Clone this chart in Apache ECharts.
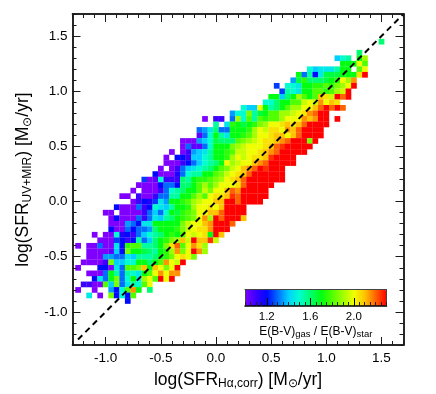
<!DOCTYPE html>
<html><head><meta charset="utf-8">
<style>html,body{margin:0;padding:0;background:#fff}#c{width:436px;height:394px}</style>
<script src="https://cdn.jsdelivr.net/npm/echarts@6/dist/echarts.min.js"></script>
</head><body><div id="c"></div>
<script>
const binWidth = 0.05;
const axisMajorTicks = [-1, -0.5, 0, 0.5, 1, 1.5];
const colorbarTicks = [1.2, 1.6, 2.0];
const refLineXY = [-1.25, 1.7];
const colorStops = ['#7f00ff','#3c00ff','#0008ff','#006cff','#00cfff','#00ffd0','#00ff70','#00ff10','#50ff00','#a0ff00','#f0ff00','#ffc400','#ff6200','#ff0000'];
const rowY = [1.45,1.35,1.3,1.25,1.2,1.15,1.1,1.05,1,0.95,0.9,0.85,0.8,0.75,0.7,0.65,0.6,0.55,0.5,0.45,0.4,0.35,0.3,0.25,0.2,0.15,0.1,0.05,0,-0.05,-0.1,-0.15,-0.2,-0.25,-0.3,-0.35,-0.4,-0.45,-0.5,-0.55,-0.6,-0.65,-0.7,-0.75,-0.8,-0.85,-0.9];
const rowFirstX = [1.5,1.3,1.1,1.15,0.85,0.75,0.7,0.55,0.6,0.5,0.45,0.25,0.15,-0.1,0,-0.15,-0.15,-0.3,-0.3,-0.4,-0.45,-0.45,-0.5,-0.55,-0.65,-0.7,-0.75,-0.85,-0.75,-0.9,-1,-0.95,-0.95,-0.95,-1.1,-1.05,-1.25,-1.15,-1.15,-1.2,-1.25,-1.15,-1.1,-1.2,-1.25,-1.15,-0.8];
const rowRatios = [
[1.6],
[1.6],
[1.4,1.5,1.55,null,1.7,1.9],
[1.7,1.7,1.7,2,1.8],
[1.5,1.4,1.45,1.45,1.45,1.55,1.7,1.7,null,1.8,2],
[1.7,1.3,1.55,1.2,1.45,1.65,1.65,1.65,1.7,1.7,1.7,2.05,2.3],
[1.35,1.65,1.75,1.6,1.6,1.6,1.65,1.7,1.75,2,1.9,2.15],
[1.25,null,1.5,1.5,1.45,1.7,1.7,1.75,1.75,1.8,1.75,1.85,1.9,2,2.3],
[1.25,1.55,1.5,1.45,1.7,1.7,1.8,1.8,1.75,1.8,1.9,1.95,2.3],
[1.7,1.7,1.4,1.6,1.7,1.9,1.8,1.7,1.8,2.1,2.05,1.95,2.3,2.2,2.3],
[1.5,1.5,1.6,1.7,1.7,1.8,1.8,1.95,2,1.95,2.15,2,2.1,2.05],
[1.5,1.4,1.4,2,1.7,1.55,1.6,1.7,1.8,1.9,1.9,2,2,2.1,2.2,2.3,2.2,2.3,2.2],
[1.35,1.5,1.5,1.85,1.55,1.65,1.7,1.8,1.8,1.9,1.9,1.95,2,2.05,2.15,2.2,2.3,2.3],
[1,null,1.1,1.1,null,1.3,1.9,1.5,1.8,1.55,1.8,1.75,1.8,1.8,1.9,2,2,2,2.15,2.1,2.15,2.3,2.3,null,2.3],
[1.55,null,1.45,1.75,1.7,1.65,1.7,1.75,1.85,1.9,2,2,2.05,2.1,2.05,2.1,2.2,2.3,2.3,2.3,2.3],
[1.3,1.35,1.45,1.6,1.3,1.3,1.7,1.7,1.7,1.75,1.9,2,1.95,2.05,2.05,2,2.15,2.1,2.2,2.3,2.3,2.3,2.3],
[1.05,1.3,1.5,1.7,1.55,1.45,1.7,1.7,1.75,1.8,1.9,2,2,2.05,2.1,2.1,2,2.1,2.2,2.3,2.3,2.3,2.3],
[1,1,1,1.35,1.4,1.5,1.65,1.6,1.6,1.6,1.8,1.85,1.9,1.95,2,2.05,2.05,2.1,2.15,2.2,2.3,2.3,2.3,1.85,2.3],
[1,1.3,1.05,1.05,1.3,1.5,1.7,1.7,1.7,1.85,1.9,1.95,2,2,2,2.05,2.1,2.2,2.25,2.3,2.3,2.3,2.3,2.3],
[1,null,1,1.1,1.35,1.4,1.45,1.55,1.7,1.7,1.75,1.8,1.95,1.95,2,2,2.05,2.1,2.15,2.2,2.3,2.3,2.3,2.3,2.3],
[1,null,1.2,1.2,1.1,1.4,1.4,1.5,1.55,1.7,1.7,1.75,1.9,2,1.95,2,2.05,2.05,2.1,2.25,2.3,2.3,2.3,2.3],
[1,1,1,1.1,1.2,1.3,1.4,1.5,1.55,1.6,1.7,2,1.9,1.95,2,2,2.1,2.15,2.2,2.3,2.3,2.3,2.3,2.3],
[1,null,1,1.1,1.3,1.4,1.45,1.5,1.55,1.6,1.7,1.8,1.85,1.95,2,2.1,2.15,2.2,2.3,2.25,2.3,2.3,2.3],
[1.2,1,1,1,1.15,1.3,1.5,1.55,1.55,1.7,1.7,1.8,1.85,1.95,2,2.05,2.1,2.2,2.3,2.3,2.3,2.3,2.3,2.3],
[1.25,1,1.05,1.5,1.1,1.1,1.1,1.6,1.55,1.7,1.75,1.75,1.8,1.85,1.9,2,2.05,2.1,2.2,2.3,2.3,2.3,2.3,2.3,2.3,2.3],
[1,1,1,1,1.2,1.3,1.3,1.2,1.6,1.6,1.7,1.8,1.9,1.8,1.9,2,2,2,2.05,2.2,2.3,2.3,2.3,2.3,2.3],
[1,null,1,1,1,1.1,1.3,1.5,1.55,1.6,1.7,1.7,1.8,1.95,1.85,2,2,2.1,2.2,2.15,2.3,2.3,2.3,2.3,2.3],
[1,1,null,1.1,1,1,1.1,1.3,1.3,1.55,1.55,1.7,1.7,1.8,1.9,1.8,2,2.05,2.05,2.1,2.25,2.2,2.3,2.3,2.3,2.3,2.3],
[1,1.1,1.2,1.15,1.25,1.45,1.35,1.7,1.7,1.75,1.8,1.9,1.95,2,2,2.1,2.1,2.3,2.3,2.2,2.3,2.3,2.3,2.3],
[1.2,1,1,1,1.3,1.1,1.2,1.5,1.45,1.4,1.55,1.7,1.7,1.75,1.9,2,2,2.05,2,2.1,2.3,2.3,2.3,2.3],
[1,1,null,1,1,1,1,1.1,1.3,1.4,1.3,1.5,1.7,1.65,1.75,1.8,1.85,2,2,2.1,2.1,2.2,2.3,2.3,2.3,2.3],
[1,1.2,1,1,1,1.3,1.1,1.3,1.45,1.4,1.55,1.6,1.7,1.75,1.8,1.85,2,2.15,1.9,2.3,2.2,2.3,2.3,2.3,2.1],
[1,1,1,1.35,1.3,1.2,1.45,1.45,1.7,1.7,1.7,1.7,1.7,1.85,1.95,2,2,2.1,2.15,2.3,2.3,2.3,2.2],
[1.2,1,1,1.3,1.2,1.3,1.3,1.35,1.6,1.7,1.7,1.7,1.75,1.85,1.95,2,2.05,2.05,2.15,2.3,2.3,2.3],
[1,null,1,1,1.5,1.15,1.2,1.1,1.3,1.4,1.5,1.55,1.6,1.7,1.75,1.7,1.8,2,1.95,2,2.05,1.7,2.3,2.1],
[1,1,1,1.25,1.2,1.1,1.2,1.55,1.3,1.4,1.6,1.7,1.75,1.85,1.9,2.1,1.95,2.3,2.1,2.1,2.25,1.95],
[1,null,1,1,1.3,1,1,1.45,1.2,1.75,1.8,1.8,1.55,1.55,1.6,1.7,1.85,2.05,2.2,1.8,2,2.15,2.05,1.9],
[1,1,1,1,1.05,1.4,1.2,1.85,1.7,1.7,1.65,1.6,1.55,1.7,1.75,1.9,2.15,1.85,2,2.3,2.15,1.9],
[1,1,1,1.35,1.35,1.3,1.3,1.45,1.4,1.55,1.55,1.55,1.6,1.7,1.75,1.85,2,2.05,2,1.85],
[1,1,1,1,1.1,1.85,1.4,1.4,1.5,1.5,1.7,1.7,1.6,1.7,1.8,2.15,2,1.95,2.3],
[1,null,null,null,1.2,1.2,1,1.45,1.3,1.8,1.8,1.85,2.1,1.7,2.1,2,1.85,2,2.3],
[1,1,1,1.3,1.7,1.55,1.3,1.55,1.5,1.45,1.7,1.8,2,2.15,2,2.15,2.15],
[1.2,1.45,1.3,1.7,1.85,1.3,1.5,1.7,1.45,1.9,2,1.8,2.3,2,2.3],
[1.1,1.1,1,1,1.8,1.4,1.85,1.3,1.45,1.55,1.5,1.8,2],
[1,null,null,1,null,null,1.35,1.2,1.5,1.8,2.15,1.7,null,1.6],
[1.45,null,1,null,1.85,1.2,1.5,1.2,1.8],
[1.2]
];

const cells = [];
rowRatios.forEach((row, r) => row.forEach((v, k) => {
  if (v !== null) cells.push([+(rowFirstX[r] + k * binWidth).toFixed(2), rowY[r], v]);
}));

const FONT = '"Liberation Sans", Arial, sans-serif';
const INK = '#1a1a1a';
const rich = {
  n: {fontFamily: FONT, fontSize: 17.5, color: '#000', lineHeight: 24, verticalAlign: 'middle'},
  s: {fontFamily: FONT, fontSize: 12, color: '#000', lineHeight: 24, verticalAlign: 'middle', padding: [8, 0, 0, 0]}
};
const richSmall = {
  n: {fontFamily: FONT, fontSize: 12, color: '#000', lineHeight: 16, verticalAlign: 'middle'},
  s: {fontFamily: FONT, fontSize: 9.5, color: '#000', lineHeight: 16, verticalAlign: 'middle', padding: [5, 0, 0, 0]}
};

function frameAxis(kind, position, major, extra) {
  const base = {
    type: 'value', gridIndex: 0, position, min: -1.3, max: 1.7, interval: 0.1, z: 5,
    axisLine: {show: true, onZero: false, lineStyle: {color: INK, width: 1.5}},
    splitLine: {show: false},
    axisLabel: {show: false},
    axisTick: {show: true, inside: true, length: 4, lineStyle: {color: INK, width: 1}}
  };
  if (major) {
    base.axisTick = {show: true, inside: true, length: 8, customValues: axisMajorTicks, lineStyle: {color: INK, width: 1}};
  }
  return Object.assign(base, extra || {});
}
const tickLabel = margin => ({
  show: true, customValues: axisMajorTicks, margin, fontFamily: FONT, fontSize: 13.5, color: '#000',
  formatter: v => (+v).toFixed(1)
});

const xAxes = [
  frameAxis('x', 'bottom', false),
  frameAxis('x', 'bottom', true, {
    axisLabel: tickLabel(6),
    name: '{n|log(SFR}{s|Hα,corr}{n|) [M}{s|⊙}{n|/yr]}',
    nameLocation: 'middle', nameGap: 21, nameTextStyle: {rich}
  }),
  frameAxis('x', 'top', false),
  frameAxis('x', 'top', true),
  {
    type: 'value', gridIndex: 1, position: 'bottom', min: 1.0, max: 2.3, interval: 0.05, z: 10,
    axisLine: {show: true, onZero: false, lineStyle: {color: '#000', width: 1.5}},
    splitLine: {show: false}, axisLabel: {show: false},
    axisTick: {show: true, inside: true, length: 4, lineStyle: {color: '#222', width: 1}}
  },
  {
    type: 'value', gridIndex: 1, position: 'bottom', min: 1.0, max: 2.3, z: 10,
    axisLine: {show: false}, splitLine: {show: false},
    axisTick: {show: true, inside: true, length: 8, customValues: colorbarTicks, lineStyle: {color: '#000', width: 1}},
    axisLabel: {show: true, customValues: colorbarTicks, margin: 5, fontFamily: FONT, fontSize: 11.5, color: '#000', formatter: v => (+v).toFixed(1)},
    name: '{n|E(B-V)}{s|gas}{n| / E(B-V)}{s|star}',
    nameLocation: 'middle', nameGap: 13, nameTextStyle: {rich: richSmall}
  },
  {
    type: 'value', gridIndex: 1, position: 'top', min: 1.0, max: 2.3, z: 10,
    axisLine: {show: true, onZero: false, lineStyle: {color: '#444', width: 1}},
    axisTick: {show: false}, axisLabel: {show: false}, splitLine: {show: false}
  }
];
const yAxes = [
  frameAxis('y', 'left', false),
  frameAxis('y', 'left', true, {
    axisLabel: tickLabel(5),
    name: '{n|log(SFR}{s|UV+MIR}{n|) [M}{s|⊙}{n|/yr]}',
    nameLocation: 'middle', nameGap: 26, nameTextStyle: {rich}
  }),
  frameAxis('y', 'right', false),
  frameAxis('y', 'right', true),
  {
    type: 'value', gridIndex: 1, position: 'left', min: 0, max: 1, z: 10,
    axisLine: {show: true, onZero: false, lineStyle: {color: '#444', width: 1}},
    axisTick: {show: false}, axisLabel: {show: false}, splitLine: {show: false}
  },
  {
    type: 'value', gridIndex: 1, position: 'right', min: 0, max: 1, z: 10,
    axisLine: {show: true, onZero: false, lineStyle: {color: '#444', width: 1}},
    axisTick: {show: false}, axisLabel: {show: false}, splitLine: {show: false}
  }
];

const chart = echarts.init(document.getElementById('c'), null, {renderer: 'canvas'});
chart.setOption({
  animation: false,
  backgroundColor: '#fff',
  grid: [
    {left: 72.5, top: 14, width: 331, height: 331, containLabel: false, outerBoundsMode: 'none'},
    {left: 245, top: 289.5, width: 141.5, height: 16.5, containLabel: false, outerBoundsMode: 'none'}
  ],
  xAxis: xAxes,
  yAxis: yAxes,
  visualMap: {
    type: 'continuous', seriesIndex: 0, dimension: 2, min: 1.0, max: 2.3,
    orient: 'horizontal', left: 245, top: 289.5, padding: 0,
    itemWidth: 16.5, itemHeight: 141.5, text: null, calculable: false, showLabel: false,
    inRange: {color: colorStops}, z: 4
  },
  series: [
    {
      type: 'custom', xAxisIndex: 0, yAxisIndex: 0, coordinateSystem: 'cartesian2d',
      encode: {x: 0, y: 1},
      data: cells, z: 2, silent: true,
      renderItem(params, api) {
        const c = api.coord([api.value(0), api.value(1)]);
        const s = api.size([binWidth, binWidth]);
        return {type: 'rect',
          shape: {x: c[0] - s[0] / 2, y: c[1] - s[1] / 2, width: s[0] + 0.2, height: s[1] + 0.2},
          style: {fill: api.visual('color')}};
      }
    },
    {
      type: 'line', xAxisIndex: 0, yAxisIndex: 0, silent: true, z: 3,
      data: [[refLineXY[0], refLineXY[0]], [refLineXY[1], refLineXY[1]]],
      symbol: 'none',
      lineStyle: {color: '#000', width: 2, type: [6, 4.4]}
    },
    {type: 'line', xAxisIndex: 4, yAxisIndex: 4, data: [], silent: true}
  ]
});
</script></body></html>
